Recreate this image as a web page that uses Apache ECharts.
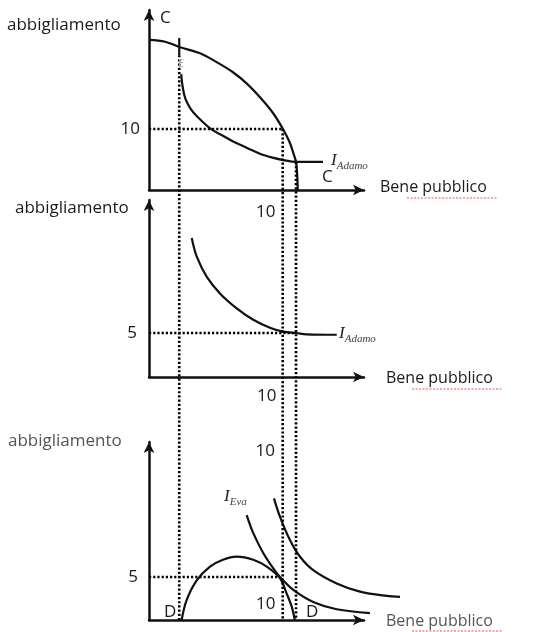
<!DOCTYPE html>
<html><head><meta charset="utf-8">
<script src="https://cdn.jsdelivr.net/npm/echarts@6/dist/echarts.min.js"></script>
<style>html,body{margin:0;padding:0;background:#fff}#c{width:552px;height:632px}</style>
</head><body><div id="c"></div>
<script>
// ---- data (economic units) ----
// Panel 1: production frontier C-C and Adamo's indifference curve
const frontierX = [0, 1.2, 2.31, 3.8, 5.0, 6.25, 7.3, 8.26, 9.2, 9.97, 10.45, 10.75, 10.94, 11.03, 11.07];
const frontierY = [24.6, 24.3, 23.4, 22.4, 21.0, 19.3, 17.4, 15.2, 12.7, 10.0, 7.9, 6.0, 4.6, 2.4, 0];
const adamo1X = [2.4, 2.5, 2.7, 3.1, 3.6, 4.6, 5.5, 6.3, 7.3, 8.3, 9.2, 10.0, 10.94, 12.95];
const adamo1Y = [19.0, 17.0, 15.0, 13.3, 12.0, 10.0, 8.9, 7.9, 6.9, 5.9, 5.3, 4.9, 4.6, 4.6];
// Panel 2: Adamo's indifference curve
const adamo2X = [3.18, 3.55, 4.29, 5.28, 6.53, 7.76, 9.0, 9.99, 10.94, 11.73, 13.97];
const adamo2Y = [15.8, 13.7, 11.4, 9.5, 7.8, 6.5, 5.6, 5.15, 5.0, 4.85, 4.8];
// Panel 3: Eva's consumption possibility curve D-D and two indifference curves
const humpX = [2.43, 2.8, 3.55, 4.54, 5.5, 6.53, 7.76, 8.76, 9.75, 10.24, 10.62, 10.85];
const humpY = [0, 2.3, 4.6, 6.2, 7.0, 7.36, 7.0, 6.2, 4.85, 3.1, 1.55, 0];
const evaLowX = [7.27, 7.76, 8.5, 9.25, 9.75, 10.74, 12.22, 13.97, 16.44];
const evaLowY = [12.2, 10.1, 7.8, 6.0, 5.0, 3.5, 2.1, 1.25, 0.8];
const evaHighX = [9.3, 9.75, 10.49, 11.24, 12.22, 13.97, 15.7, 17.69, 18.68];
const evaHighY = [14.15, 12.0, 9.3, 7.35, 5.8, 4.25, 3.3, 2.8, 2.7];
// guide lines
const guideX = [2.25, 9.95, 10.94];        // vertical dotted lines (bene pubblico)
const guideTopY = [22.1, 10.0, 4.6];       // where they start in panel 1
const tickMarkY = [24.9, 22.1];            // short solid mark on the frontier at guideX[0]
const hLevel1 = 10, hEnd1 = 9.95;          // panel 1 horizontal dotted
const hLevel2 = 5, hEnd2 = 10.94;          // panel 2
const hLevel3 = 5, hEnd3 = 9.75;           // panel 3
const xTickLabel = 10, y1TickLabel = 10, y2TickLabel = 5, y3TickLabel = 5;

// ---- layout ----
const L = 149, W = 215, XMAX = 16, XMAX_WIDE = 20;
const G = [
  {top: 10, height: 180, ymax: 29.5},
  {top: 200, height: 177, ymax: 20.11},
  {top: 442, height: 178, ymax: 20.7}
];
const bottomPx = G[2].top + G[2].height;
const p1Bottom = G[0].top + G[0].height;
const guideBottom = -(bottomPx - p1Bottom) / (G[0].height / G[0].ymax);

const zip = (xs, ys) => xs.map((x, i) => [x, ys[i]]);
const FONT = '"Open Sans", "Liberation Sans", sans-serif';
const black = '#111';

function xAxisFor(i, labelCfg) {
  return {
    type: 'value', gridIndex: i, min: 0, max: XMAX, interval: 10,
    axisLine: {onZero: true, lineStyle: {color: black, width: 2.5}, symbol: ['none', 'arrow'], symbolSize: [8, 11]},
    axisTick: {show: false}, splitLine: {show: false},
    axisLabel: Object.assign({
      color: '#1a1a1a', fontSize: 17, fontFamily: FONT,
      formatter: v => (v === xTickLabel ? String(xTickLabel) : ''),
      align: 'right', showMinLabel: false, showMaxLabel: false
    }, labelCfg)
  };
}
function yAxisFor(i, tick, interval, margin) {
  return {
    type: 'value', gridIndex: i, min: 0, max: G[i].ymax, interval: interval,
    axisLine: {show: true, onZero: true, lineStyle: {color: black, width: 2.5}, symbol: ['none', 'arrow'], symbolSize: [8, 11]},
    axisTick: {show: false}, splitLine: {show: false},
    axisLabel: {color: '#1a1a1a', fontSize: 17, fontFamily: FONT, margin: margin,
      formatter: v => (v === tick ? String(tick) : '')}
  };
}
const hiddenAxis = (i, min, max) => ({type: 'value', gridIndex: i, min: min, max: max, show: false, splitLine: {show: false}});

const solid = (xi, data, w) => ({
  type: 'line', xAxisIndex: xi, yAxisIndex: xi, data: data, showSymbol: false, clip: false,
  smooth: 0.35, lineStyle: {color: black, width: w || 2.2}, silent: true
});
const dotted = (xi, data) => ({
  type: 'line', xAxisIndex: xi, yAxisIndex: xi, data: data, showSymbol: false, clip: false,
  lineStyle: {color: '#000', width: 2.6, type: [2.2, 2]}, silent: true
});

const series = [
  solid(0, zip(frontierX, frontierY)),
  solid(0, zip(adamo1X, adamo1Y)),
  solid(0, [[guideX[0], tickMarkY[0]], [guideX[0], tickMarkY[1]]]),
  dotted(0, [[0, hLevel1], [hEnd1, hLevel1]]),
  solid(1, zip(adamo2X, adamo2Y)),
  dotted(1, [[0, hLevel2], [hEnd2, hLevel2]]),
  solid(2, zip(humpX, humpY)),
  solid(3, zip(evaLowX, evaLowY)),
  solid(3, zip(evaHighX, evaHighY)),
  dotted(2, [[0, hLevel3], [hEnd3, hLevel3]])
];
guideX.forEach((gx, i) => series.push(dotted(4, [[gx, guideTopY[i]], [gx, guideBottom]])));

const txt = (x, y, text, size, color, extra) => ({
  type: 'text', x: x, y: y, silent: true, z: 100,
  style: Object.assign({text: text, font: size + 'px ' + FONT, fill: color || '#1a1a1a', verticalAlign: 'middle', align: 'left'}, extra || {})
});
const iLabel = (x, y, sub) => ({
  type: 'text', x: x, y: y, silent: true, z: 100,
  style: {
    text: '{a|I}{b|' + sub + '}', verticalAlign: 'middle',
    rich: {
      a: {font: 'italic 17px "Liberation Serif", serif', fill: '#222', verticalAlign: 'middle'},
      b: {font: 'italic 11px "Liberation Serif", serif', fill: '#444', padding: [10, 0, 0, 0], verticalAlign: 'middle'}
    }
  }
});
const underline = (x1, x2, y) => ({
  type: 'line', silent: true, z: 90,
  shape: {x1: x1, y1: y, x2: x2, y2: y},
  style: {stroke: '#e05555', lineWidth: 1.2, lineDash: [2, 1.5]}
});

const pxPerX = W / XMAX;
const option = {
  animation: false,
  backgroundColor: '#ffffff',
  grid: [
    ...G.map(g => ({left: L, width: W, top: g.top, height: g.height, containLabel: false})),
    {left: L, width: pxPerX * XMAX_WIDE, top: G[2].top, height: G[2].height, containLabel: false},
    {left: L, width: W, top: G[0].top, height: bottomPx - G[0].top, containLabel: false}
  ],
  xAxis: [
    xAxisFor(0, {margin: 14, padding: [0, 8, 0, 0]}),
    xAxisFor(1, {margin: 11, padding: [0, 7, 0, 0]}),
    xAxisFor(2, {margin: 7, inside: true, padding: [0, 8, 0, 0]}),
    hiddenAxis(3, 0, XMAX_WIDE),
    hiddenAxis(4, 0, XMAX)
  ],
  yAxis: [
    yAxisFor(0, y1TickLabel, 10, 9),
    yAxisFor(1, y2TickLabel, 5, 12),
    yAxisFor(2, y3TickLabel, 5, 11)
  ].concat([hiddenAxis(3, 0, G[2].ymax), hiddenAxis(4, guideBottom, G[0].ymax)]),
  series: series,
  graphic: [
    txt(7, 25, 'abbigliamento', 17),
    txt(15, 208, 'abbigliamento', 17),
    txt(8, 441, 'abbigliamento', 17, '#555'),
    txt(380, 187, 'Bene pubblico', 16),
    txt(386, 378, 'Bene pubblico', 16),
    txt(386, 621, 'Bene pubblico', 16, '#555'),
    underline(407, 497, 198), underline(412, 502, 389), underline(412, 502, 631),
    txt(160, 18, 'C', 17),
    txt(322, 177, 'C', 17),
    txt(164, 612, 'D', 17),
    txt(306, 612, 'D', 17),
    txt(178, 64, 'E', 11, '#aaa'),
    txt(275, 451, '10', 17, '#1a1a1a', {align: 'right'}),
    iLabel(331, 161, 'Adamo'),
    iLabel(339, 334, 'Adamo'),
    iLabel(224, 497, 'Eva')
  ]
};
const chart = echarts.init(document.getElementById('c'), null, {renderer: 'canvas'});
chart.setOption(option);
</script></body></html>
